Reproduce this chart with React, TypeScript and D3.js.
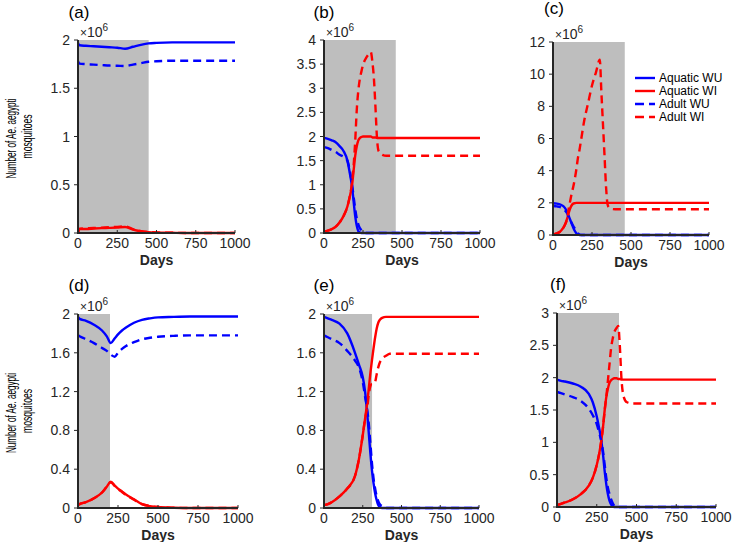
import React from 'react';
import * as d3 from 'd3';

// ---------- shared ----------
const xTicks = [0, 250, 500, 750, 1000];
const legendLabels = ['Aquatic WU', 'Aquatic WI', 'Adult WU', 'Adult WI'];
const yLabelLines = ['Number of Ae. aegypti', 'mosquitoes'];

// ---------- panel (a) ----------
const daysA = [0, 10, 50, 100, 150, 200, 250, 300, 350, 400, 450, 500, 600, 700, 800, 900, 1000];
const aAquaticWU = [1.97, 1.945, 1.94, 1.935, 1.93, 1.925, 1.92, 1.91, 1.93, 1.95, 1.965, 1.97, 1.975, 1.975, 1.975, 1.975, 1.975];
const aAquaticWI = [0.0, 0.04, 0.042, 0.046, 0.05, 0.053, 0.057, 0.062, 0.035, 0.018, 0.009, 0.005, 0.002, 0.0, 0.0, 0.0, 0.0];
const aAdultWU = [1.78, 1.755, 1.75, 1.745, 1.74, 1.735, 1.733, 1.73, 1.745, 1.76, 1.775, 1.78, 1.785, 1.785, 1.785, 1.785, 1.785];
const aAdultWI = [0.0, 0.045, 0.048, 0.052, 0.056, 0.06, 0.064, 0.068, 0.04, 0.02, 0.01, 0.005, 0.002, 0.0, 0.0, 0.0, 0.0];
const yTicksA = [0, 0.5, 1, 1.5, 2];
const yMaxA = 2;
const shadeEndA = 450;

// ---------- panel (b) ----------
const daysB = [0, 25, 50, 75, 100, 125, 150, 165, 180, 190, 200, 210, 220, 230, 240, 250, 260, 270, 280, 290, 300, 310, 320, 330, 340, 350, 375, 400, 500, 1000];
const bAquaticWU = [1.97, 1.95, 1.92, 1.88, 1.8, 1.7, 1.5, 1.25, 0.95, 0.65, 0.35, 0.15, 0.04, 0.01, 0, 0, 0, 0, 0, 0, 0, 0, 0, 0, 0, 0, 0, 0, 0, 0];
const bAquaticWI = [0.03, 0.05, 0.08, 0.13, 0.22, 0.35, 0.55, 0.75, 1.0, 1.3, 1.6, 1.8, 1.92, 1.97, 1.99, 2.0, 2.0, 2.0, 2.0, 2.0, 2.0, 1.98, 1.98, 1.98, 1.97, 1.97, 1.97, 1.97, 1.97, 1.97];
const bAdultWU = [1.78, 1.76, 1.72, 1.68, 1.62, 1.58, 1.5, 1.3, 1.0, 0.75, 0.5, 0.3, 0.18, 0.1, 0.06, 0.03, 0.01, 0, 0, 0, 0, 0, 0, 0, 0, 0, 0, 0, 0, 0];
const bAdultWI = [0.03, 0.05, 0.08, 0.13, 0.22, 0.35, 0.55, 0.75, 1.05, 1.4, 1.9, 2.55, 2.95, 3.2, 3.35, 3.48, 3.57, 3.63, 3.68, 3.72, 3.75, 3.55, 3.2, 2.6, 1.95, 1.7, 1.62, 1.6, 1.6, 1.6];
const yTicksB = [0, 0.5, 1, 1.5, 2, 2.5, 3, 3.5, 4];
const yMaxB = 4;
const shadeEndB = 460;

// ---------- panel (c) ----------
const daysC = [0, 25, 50, 75, 90, 100, 110, 120, 130, 140, 150, 160, 170, 180, 200, 225, 250, 275, 300, 310, 320, 330, 340, 350, 360, 375, 400, 500, 1000];
const cAquaticWU = [1.97, 1.95, 1.88, 1.7, 1.45, 1.2, 0.95, 0.7, 0.45, 0.25, 0.1, 0.03, 0, 0, 0, 0, 0, 0, 0, 0, 0, 0, 0, 0, 0, 0, 0, 0, 0];
const cAquaticWI = [0.02, 0.1, 0.25, 0.6, 1.0, 1.35, 1.65, 1.85, 1.95, 1.98, 2.0, 2.0, 2.0, 2.0, 2.0, 2.0, 2.0, 2.0, 2.0, 2.0, 2.0, 2.0, 2.0, 2.0, 2.0, 2.0, 2.0, 2.0, 2.0];
const cAdultWU = [1.8, 1.78, 1.72, 1.55, 1.35, 1.15, 0.95, 0.75, 0.55, 0.4, 0.25, 0.1, 0.03, 0, 0, 0, 0, 0, 0, 0, 0, 0, 0, 0, 0, 0, 0, 0, 0];
const cAdultWI = [0.02, 0.1, 0.25, 0.6, 1.0, 1.6, 2.1, 2.6, 3.0, 3.5, 4.1, 4.8, 5.3, 5.9, 7.1, 8.2, 9.3, 10.1, 10.9, 8.9, 6.95, 5.0, 3.0, 1.9, 1.7, 1.62, 1.6, 1.6, 1.6];
const yTicksC = [0, 2, 4, 6, 8, 10, 12];
const yMaxC = 12;
const shadeEndC = 460;

// ---------- panel (d) ----------
const daysD = [0, 10, 50, 100, 150, 180, 205, 230, 250, 275, 300, 350, 400, 450, 500, 600, 700, 800, 1000];
const dAquaticWU = [1.97, 1.95, 1.93, 1.89, 1.83, 1.77, 1.7, 1.75, 1.79, 1.83, 1.86, 1.91, 1.94, 1.955, 1.965, 1.97, 1.975, 1.975, 1.975];
const dAquaticWI = [0.03, 0.04, 0.06, 0.1, 0.16, 0.22, 0.27, 0.23, 0.2, 0.17, 0.14, 0.09, 0.04, 0.02, 0.01, 0.003, 0, 0, 0];
const dAdultWU = [1.78, 1.77, 1.74, 1.7, 1.65, 1.62, 1.58, 1.56, 1.6, 1.64, 1.67, 1.71, 1.74, 1.755, 1.765, 1.775, 1.78, 1.78, 1.78];
const dAdultWI = [0.03, 0.04, 0.06, 0.1, 0.16, 0.22, 0.265, 0.225, 0.195, 0.165, 0.135, 0.085, 0.04, 0.02, 0.01, 0.003, 0, 0, 0];
const yTicksD = [0, 0.4, 0.8, 1.2, 1.6, 2];
const yMaxD = 2;
const shadeEndD = 200;

// ---------- panel (e) ----------
const daysE = [0, 25, 50, 100, 150, 200, 225, 250, 265, 280, 290, 300, 310, 320, 330, 340, 350, 360, 375, 400, 425, 450, 500, 1000];
const eAquaticWU = [1.97, 1.955, 1.94, 1.9, 1.8, 1.6, 1.48, 1.35, 1.2, 0.95, 0.75, 0.55, 0.38, 0.25, 0.15, 0.08, 0.03, 0.01, 0, 0, 0, 0, 0, 0];
const eAquaticWI = [0.03, 0.04, 0.06, 0.12, 0.2, 0.33, 0.5, 0.75, 0.92, 1.1, 1.25, 1.4, 1.53, 1.65, 1.76, 1.85, 1.91, 1.94, 1.96, 1.97, 1.97, 1.97, 1.97, 1.97];
const eAdultWU = [1.78, 1.76, 1.74, 1.7, 1.62, 1.52, 1.45, 1.3, 1.15, 1.0, 0.85, 0.65, 0.45, 0.3, 0.2, 0.12, 0.07, 0.04, 0.02, 0, 0, 0, 0, 0];
const eAdultWI = [0.03, 0.04, 0.06, 0.12, 0.2, 0.33, 0.5, 0.75, 0.92, 1.05, 1.18, 1.26, 1.28, 1.28, 1.3, 1.38, 1.45, 1.5, 1.54, 1.57, 1.59, 1.59, 1.59, 1.59];
const yTicksE = [0, 0.4, 0.8, 1.2, 1.6, 2];
const yMaxE = 2;
const shadeEndE = 310;

// ---------- panel (f) ----------
const daysF = [0, 25, 50, 100, 150, 200, 225, 250, 265, 280, 290, 300, 310, 320, 330, 340, 350, 360, 375, 385, 395, 405, 420, 440, 475, 500, 1000];
const fAquaticWU = [1.97, 1.95, 1.94, 1.91, 1.86, 1.75, 1.62, 1.4, 1.22, 1.0, 0.8, 0.55, 0.35, 0.2, 0.1, 0.04, 0.01, 0, 0, 0, 0, 0, 0, 0, 0, 0, 0];
const fAquaticWI = [0.03, 0.05, 0.07, 0.12, 0.2, 0.33, 0.45, 0.65, 0.82, 1.05, 1.25, 1.5, 1.7, 1.83, 1.92, 1.96, 1.98, 1.99, 1.99, 1.98, 1.98, 1.97, 1.97, 1.97, 1.97, 1.97, 1.97];
const fAdultWU = [1.78, 1.76, 1.74, 1.7, 1.64, 1.52, 1.42, 1.28, 1.15, 1.0, 0.85, 0.65, 0.45, 0.3, 0.2, 0.12, 0.06, 0.02, 0, 0, 0, 0, 0, 0, 0, 0, 0];
const fAdultWI = [0.03, 0.05, 0.07, 0.12, 0.2, 0.33, 0.45, 0.65, 0.82, 1.05, 1.25, 1.5, 1.7, 1.95, 2.2, 2.45, 2.6, 2.7, 2.77, 2.8, 2.5, 2.0, 1.7, 1.62, 1.6, 1.6, 1.6];
const yTicksF = [0, 0.5, 1, 1.5, 2, 2.5, 3];
const yMaxF = 3;
const shadeEndF = 390;

const SERIES_STYLE = [
  { color: '#0000ff', dash: undefined as string | undefined },
  { color: '#ff0000', dash: undefined as string | undefined },
  { color: '#0000ff', dash: '8,5' },
  { color: '#ff0000', dash: '8,5' },
];

const AXIS = '#262626';
const FONT = "'Liberation Sans', Arial, Helvetica, sans-serif";

type PanelProps = {
  x0: number; x1: number; yTop: number; yBot: number;
  yMax: number; yTicks: number[]; shadeEnd: number;
  days: number[]; series: number[][];
  label: string; labelX: number; labelY: number;
  yLabel?: boolean; legend?: boolean;
};

function Panel(p: PanelProps) {
  const x = d3.scaleLinear().domain([0, 1000]).range([p.x0, p.x1]);
  const y = d3.scaleLinear().domain([0, p.yMax]).range([p.yBot, p.yTop]);
  const line = d3.line<[number, number]>()
    .x(d => x(d[0]))
    .y(d => y(d[1]))
    .curve(d3.curveMonotoneX);
  const yMid = (p.yTop + p.yBot) / 2;
  return (
    <g>
      <rect x={x(0)} y={y(p.yMax)} width={x(p.shadeEnd) - x(0)} height={y(0) - y(p.yMax)} fill="#bebebe" />
      {p.series.map((vals, i) => (
        <path key={i}
          d={line(p.days.map((d, j) => [d, vals[j]] as [number, number])) || ''}
          fill="none" stroke={SERIES_STYLE[i].color} strokeWidth={2.4}
          strokeDasharray={SERIES_STYLE[i].dash} strokeLinejoin="round" />
      ))}
      {/* axes */}
      <line x1={p.x0} x2={p.x1} y1={p.yBot} y2={p.yBot} stroke={AXIS} strokeWidth={2} />
      <line x1={p.x0} x2={p.x0} y1={p.yBot + 1} y2={p.yTop} stroke={AXIS} strokeWidth={2} />
      {xTicks.map(t => (
        <g key={t}>
          <line x1={x(t)} x2={x(t)} y1={p.yBot} y2={p.yBot - 3} stroke={AXIS} strokeWidth={1} />
          <text x={x(t)} y={p.yBot + 15} textAnchor="middle" fontSize={14} fill={AXIS} fontFamily={FONT}>{t}</text>
        </g>
      ))}
      {p.yTicks.map(t => (
        <g key={t}>
          <line x1={p.x0} x2={p.x0 - 4} y1={y(t)} y2={y(t)} stroke={AXIS} strokeWidth={1} />
          <text x={p.x0 - 8} y={y(t) + 5} textAnchor="end" fontSize={14} fill={AXIS} fontFamily={FONT}>{String(t)}</text>
        </g>
      ))}
      <text x={(p.x0 + p.x1) / 2} y={p.yBot + 32} textAnchor="middle" fontSize={14} fontWeight="bold" fill={AXIS} fontFamily={FONT}>Days</text>
      <text x={p.x0 + 2} y={p.yTop - 3} fontFamily={FONT} fill={AXIS}>
        <tspan fontSize={12}>×</tspan><tspan fontSize={14}>10</tspan><tspan fontSize={10} dy={-6}>6</tspan>
      </text>
      <text x={p.labelX} y={p.labelY} textAnchor="middle" fontSize={17} fill="#000" fontFamily={FONT}>{p.label}</text>
      {p.yLabel && (
        <g>
          <text transform={`translate(16,${yMid + 2}) rotate(-90)`} textAnchor="middle" fontSize={14}
            fontFamily={FONT} fill="#000" textLength={80} lengthAdjust="spacingAndGlyphs">{yLabelLines[0]}</text>
          <text transform={`translate(32,${yMid}) rotate(-90)`} textAnchor="middle" fontSize={14}
            fontFamily={FONT} fill="#000" textLength={44} lengthAdjust="spacingAndGlyphs">{yLabelLines[1]}</text>
        </g>
      )}
      {p.legend && (
        <g>
          {legendLabels.map((lab, i) => (
            <g key={lab}>
              <line x1={635} x2={655} y1={78 + i * 13} y2={78 + i * 13}
                stroke={SERIES_STYLE[i].color} strokeWidth={2.4} strokeDasharray={SERIES_STYLE[i].dash ? '9,5' : undefined} />
              <text x={659} y={78 + i * 13 + 4} fontSize={12} fill="#000" fontFamily={FONT}>{lab}</text>
            </g>
          ))}
        </g>
      )}
    </g>
  );
}

export default function App() {
  return (
    <svg width={740} height={542} style={{ position: 'absolute', left: 0, top: 0, background: '#fff' }}>
      <rect x={0} y={0} width={740} height={542} fill="#fff" />
      <Panel x0={78} x1={235} yTop={40} yBot={233} yMax={yMaxA} yTicks={yTicksA} shadeEnd={shadeEndA}
        days={daysA} series={[aAquaticWU, aAquaticWI, aAdultWU, aAdultWI]}
        label="(a)" labelX={79} labelY={18} yLabel />
      <Panel x0={324} x1={480} yTop={40} yBot={233} yMax={yMaxB} yTicks={yTicksB} shadeEnd={shadeEndB}
        days={daysB} series={[bAquaticWU, bAquaticWI, bAdultWU, bAdultWI]}
        label="(b)" labelX={324} labelY={18} />
      <Panel x0={553} x1={709} yTop={42} yBot={235} yMax={yMaxC} yTicks={yTicksC} shadeEnd={shadeEndC}
        days={daysC} series={[cAquaticWU, cAquaticWI, cAdultWU, cAdultWI]}
        label="(c)" labelX={554} labelY={14} legend />
      <Panel x0={78} x1={238} yTop={314} yBot={508} yMax={yMaxD} yTicks={yTicksD} shadeEnd={shadeEndD}
        days={daysD} series={[dAquaticWU, dAquaticWI, dAdultWU, dAdultWI]}
        label="(d)" labelX={79} labelY={291} yLabel />
      <Panel x0={324} x1={479} yTop={314} yBot={508} yMax={yMaxE} yTicks={yTicksE} shadeEnd={shadeEndE}
        days={daysE} series={[eAquaticWU, eAquaticWI, eAdultWU, eAdultWI]}
        label="(e)" labelX={324} labelY={291} />
      <Panel x0={557} x1={716} yTop={313} yBot={507} yMax={yMaxF} yTicks={yTicksF} shadeEnd={shadeEndF}
        days={daysF} series={[fAquaticWU, fAquaticWI, fAdultWU, fAdultWI]}
        label="(f)" labelX={558} labelY={290} />
    </svg>
  );
}
